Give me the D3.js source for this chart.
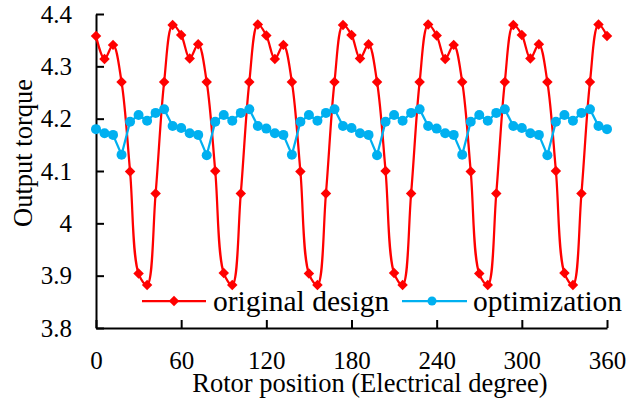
<!DOCTYPE html>
<html>
<head>
<meta charset="utf-8">
<script src="https://cdn.jsdelivr.net/npm/d3@7"></script>
<style>
  html, body { margin: 0; padding: 0; background: #fff; }
  svg { display: block; }
  svg text { font-family: 'Liberation Serif', 'Times New Roman', Times, 'DejaVu Serif', serif !important; fill: #000; }
</style>
</head>
<body>
<svg id="chart" width="641" height="401"></svg>
<script>
// Rotor position (electrical degree)
const angles = [0,6,12,18,24,30,36,42,48,54,
  60,66,72,78,84,90,96,102,108,114,
  120,126,132,138,144,150,156,162,168,174,
  180,186,192,198,204,210,216,222,228,234,
  240,246,252,258,264,270,276,282,288,294,
  300,306,312,318,324,330,336,342,348,354,
  360];

const originalDesign = [4.358,4.314,4.341,4.270,4.099,3.904,3.882,4.057,4.270,4.379,
  4.360,4.315,4.342,4.270,4.100,3.905,3.882,4.057,4.270,4.380,
  4.359,4.314,4.341,4.270,4.099,3.904,3.882,4.057,4.270,4.379,
  4.360,4.315,4.342,4.270,4.100,3.905,3.882,4.057,4.270,4.380,
  4.359,4.314,4.341,4.270,4.099,3.904,3.882,4.057,4.270,4.379,
  4.360,4.315,4.342,4.270,4.100,3.905,3.882,4.057,4.270,4.380,
  4.358];

const optimization = [4.180,4.172,4.169,4.131,4.194,4.207,4.196,4.211,4.218,4.186,
  4.182,4.172,4.169,4.130,4.194,4.207,4.196,4.211,4.218,4.186,
  4.181,4.172,4.169,4.131,4.194,4.207,4.196,4.211,4.218,4.186,
  4.182,4.172,4.169,4.130,4.194,4.207,4.196,4.211,4.218,4.186,
  4.181,4.172,4.169,4.131,4.194,4.207,4.196,4.211,4.218,4.186,
  4.182,4.172,4.169,4.130,4.194,4.207,4.196,4.211,4.218,4.186,
  4.180];

const xTicks = [0,60,120,180,240,300,360];
const yTicks = [3.8,3.9,4.0,4.1,4.2,4.3,4.4];
const seriesNames = ["original design", "optimization"];
const xTitle = "Rotor position (Electrical degree)";
const yTitle = "Output torque";

const FONT = "'Liberation Serif', 'Times New Roman', Times, 'DejaVu Serif', serif";

const svg = d3.select("#chart");
const x = d3.scaleLinear().domain([0,360]).range([96,607]);
const y = d3.scaleLinear().domain([3.8,4.4]).range([328,14]);

// Axes
const yAxis = d3.axisLeft(y).tickValues(yTicks).tickSizeInner(-8).tickSizeOuter(0).tickPadding(24)
  .tickFormat(d => String(+d.toFixed(1)));
const gy = svg.append("g").attr("transform", `translate(${x(0)},0)`).call(yAxis);
const xAxis = d3.axisBottom(x).tickValues(xTicks).tickSizeInner(-8).tickSizeOuter(0).tickPadding(23);
const gx = svg.append("g").attr("transform", `translate(0,${y(3.8)})`).call(xAxis);
[gx, gy].forEach(g => {
  g.attr("font-family", FONT).attr("font-size", 25);
  g.selectAll("path.domain").attr("stroke", "#000").attr("stroke-width", 2);
  g.selectAll(".tick line").attr("stroke", "#000").attr("stroke-width", 2);
  g.selectAll(".tick text").attr("fill", "#000");
});

// Titles
svg.append("text").attr("x", 370).attr("y", 392).attr("text-anchor", "middle")
  .attr("font-family", FONT).attr("font-size", 26.5).text(xTitle);
svg.append("text").attr("transform", "translate(32,153) rotate(-90)").attr("text-anchor", "middle")
  .attr("font-family", FONT).attr("font-size", 26.5).text(yTitle);

const red = "#FF0000", blue = "#00B0F0";
const redData = angles.map((a,i) => [a, originalDesign[i]]);
const blueData = angles.map((a,i) => [a, optimization[i]]);

const diamond = d3.symbol().type(d3.symbolDiamond2).size(70);

// Original design series
svg.append("path").datum(redData)
  .attr("d", d3.line().x(d => x(d[0])).y(d => y(d[1])).curve(d3.curveCatmullRom.alpha(0.5)))
  .attr("fill", "none").attr("stroke", red).attr("stroke-width", 2.25);
svg.append("g").selectAll("path").data(redData).join("path")
  .attr("transform", d => `translate(${x(d[0])},${y(d[1])})`)
  .attr("d", diamond).attr("fill", red);

// Optimization series
svg.append("path").datum(blueData)
  .attr("d", d3.line().x(d => x(d[0])).y(d => y(d[1])))
  .attr("fill", "none").attr("stroke", blue).attr("stroke-width", 2.25);
svg.append("g").selectAll("circle").data(blueData).join("circle")
  .attr("cx", d => x(d[0])).attr("cy", d => y(d[1])).attr("r", 5).attr("fill", blue);

// Legend
const lg = svg.append("g");
const ly = 301;
lg.append("line").attr("x1", 142).attr("x2", 206).attr("y1", ly).attr("y2", ly)
  .attr("stroke", red).attr("stroke-width", 2.25);
lg.append("path").attr("transform", `translate(174,${ly})`).attr("d", diamond).attr("fill", red);
lg.append("text").attr("x", 213).attr("y", 311).attr("font-family", FONT).attr("font-size", 29.5).text(seriesNames[0]);
lg.append("line").attr("x1", 402).attr("x2", 467).attr("y1", ly).attr("y2", ly)
  .attr("stroke", blue).attr("stroke-width", 2.25);
lg.append("circle").attr("cx", 432).attr("cy", ly).attr("r", 4.5).attr("fill", blue);
lg.append("text").attr("x", 473).attr("y", 311).attr("font-family", FONT).attr("font-size", 29.5).text(seriesNames[1]);
</script>
</body>
</html>
